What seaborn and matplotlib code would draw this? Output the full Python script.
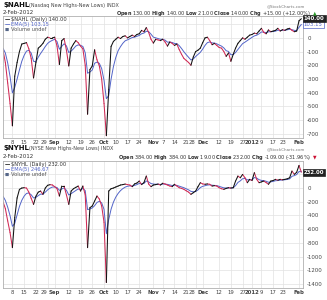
import numpy as np
import pandas as pd
import matplotlib
matplotlib.use("Agg")
import matplotlib.pyplot as plt
import seaborn as sns
from matplotlib.transforms import blended_transform_factory

# ---------------- data ----------------
holidays = ["2011-09-05", "2011-11-24", "2011-12-26", "2012-01-02", "2012-01-16"]
dates = pd.bdate_range("2011-08-02", "2012-02-02", freq="C", holidays=holidays)

nahl = [-90, -180, -330, -480, -643, -280, -180, -100, -45, -40,
        -35, -80, -150, -293, -180, -75, -60, -40, -10, 5,
        0, 0, 5, -60, -195, -20, -5, -90, -205, -75,
        -45, -20, -35, -60, -80, -200, -558, -232, -205, -87,
        -160, -205, -300, -480, -715, -377, -63, -26, -10, 5,
        -5, 10, 15, 0, 10, 20, 10, 25, 30, 55,
        45, 75, 40, -10, -38, -10, -15, -20, -10, -30,
        -60, -30, -40, -55, -45, -85, -120, -150, -165, -180,
        -200, -140, -100, -90, -75, -35, 0, 5, -20, -50,
        -40, -55, -70, -75, -100, -135, -110, -171, -120, -75,
        -40, -20, 0, -10, 5, 20, 25, 35, 30, 50,
        70, 40, 30, 58, 45, 50, 55, 70, 50, 60,
        55, 65, 70, 55, 45, 50, 125, 140]

nyhl = [-200, -300, -480, -650, -870, -430, -145, -20, 0, 5,
        0, -60, -150, -238, -120, -60, -44, -92, 0, 40,
        49, 45, 20, -10, -117, 29, 29, -100, -238, -44,
        -10, 10, 29, -44, 29, -100, -870, -287, -262, -190,
        -117, -160, -262, -500, -1380, -44, -10, 0, 15, 29,
        44, 50, 58, 50, 44, 20, 60, 73, 102, 50,
        80, 175, 58, 20, 44, 50, 58, 44, 70, 58,
        44, 29, 20, 55, 30, 5, -5, -19, -40, -60,
        -92, -68, -44, 20, 78, 60, 55, 60, 55, 29,
        35, 29, 5, -10, -19, -5, 5, 0, 5, 102,
        175, 150, 199, 150, 78, 127, 110, 224, 127, 78,
        90, 102, 80, 55, 102, 110, 127, 115, 127, 120,
        127, 135, 150, 248, 200, 230, 330, 232]

nahl_ema_seed = -68
nyhl_ema_seed = -80

tick_dates = ["2011-08-08", "2011-08-15", "2011-08-22", "2011-08-29", "2011-09-01",
              "2011-09-12", "2011-09-19", "2011-09-26", "2011-10-03", "2011-10-10",
              "2011-10-17", "2011-10-24", "2011-11-01", "2011-11-07", "2011-11-14",
              "2011-11-21", "2011-11-28", "2011-12-01", "2011-12-12", "2011-12-19",
              "2011-12-27", "2012-01-03", "2012-01-09", "2012-01-17", "2012-01-23",
              "2012-02-01"]
tick_labels = ["8", "15", "22", "29", "Sep", "12", "19", "26", "Oct", "10", "17", "24",
               "Nov", "7", "14", "21", "28", "Dec", "12", "19", "27", "2012", "9", "17",
               "23", "Feb"]
bold_labels = {"Sep", "Oct", "Nov", "Dec", "2012", "Feb"}

top_yticks = [100, 0, -100, -200, -300, -400, -500, -600, -700]
bot_yticks = [200, 0, -200, -400, -600, -800, -1000, -1200, -1400]

panels = [
    dict(sym="$NAHL", name="(Nasdaq New Highs-New Lows) INDX",
         ohlc=r"$\bf{Open}$ 130.00 $\bf{High}$ 140.00 $\bf{Low}$ 21.00 $\bf{Close}$ 140.00 $\bf{Chg}$ +15.00 (+12.00%)",
         arrow="▲", arrow_color="#2a9a2a",
         leg1="$NAHL (Daily) 140.00", leg2="EMA(5) 103.15",
         last="140.00", last_ema="103.15",
         vals=nahl, seed=nahl_ema_seed, yticks=top_yticks, ylim=(-732, 160)),
    dict(sym="$NYHL", name="(NYSE New Highs-New Lows) INDX",
         ohlc=r"$\bf{Open}$ 384.00 $\bf{High}$ 384.00 $\bf{Low}$ 19.00 $\bf{Close}$ 232.00 $\bf{Chg}$ -109.00 (-31.96%)",
         arrow="▼", arrow_color="#cc1133",
         leg1="$NYHL (Daily) 232.00", leg2="EMA(5) 246.67",
         last="232.00", last_ema=None,
         vals=nyhl, seed=nyhl_ema_seed, yticks=bot_yticks, ylim=(-1460, 395)),
]

# ---------------- style ----------------
sns.set_style("white")
plt.rcParams["font.family"] = ["DejaVu Sans"]
plt.rcParams["mathtext.fontset"] = "dejavusans"

W, H = 327, 300
fig = plt.figure(figsize=(W / 100, H / 100), dpi=100)
fig.patch.set_facecolor("white")

def fx(x):
    return x / W

def fy(y):
    return 1 - y / H

UP, DOWN, BLUE = "#111111", "#d02a55", "#5264c8"
positions = np.arange(len(dates))
tick_pos = [dates.get_loc(pd.Timestamp(d)) for d in tick_dates]
right_aligned = {3, 16}   # "29" before "Sep", "28" before "Dec"

def ema(vals, seed, span=5):
    a = 2.0 / (span + 1)
    e = seed
    out = []
    for v in vals:
        e = a * v + (1 - a) * e
        out.append(e)
    return out

rects = [(16, 138), (161, 288)]
header_y = [(5, 13), (148, 157)]

for p, (ytop, ybot), (yt1, yt2) in zip(panels, rects, header_y):
    ax = fig.add_axes([fx(3), fy(ybot), 300 / W, (ybot - ytop) / H])
    ax.set_facecolor("white")
    vals = p["vals"]
    rows = []
    for i in range(len(vals) - 1):
        d = "up" if vals[i + 1] >= vals[i] else "down"
        rows.append((i, positions[i], vals[i], d))
        rows.append((i, positions[i + 1], vals[i + 1], d))
    df = pd.DataFrame(rows, columns=["seg", "x", "y", "dir"])
    e = ema(vals, p["seed"])
    edf = pd.DataFrame({"x": positions, "ema": e})
    sns.lineplot(data=edf, x="x", y="ema", ax=ax, color=BLUE, lw=0.7)
    sns.lineplot(data=df, x="x", y="y", units="seg", estimator=None, hue="dir",
                 palette={"up": UP, "down": DOWN}, ax=ax, lw=0.75, legend=False,
                 sort=False, solid_capstyle="round")
    ax.set_xlim(0.0, 127.7)
    ax.set_ylim(*p["ylim"])
    ax.set_xticks(tick_pos)
    ax.set_xticklabels(tick_labels)
    for k, lab in enumerate(ax.get_xticklabels()):
        if lab.get_text() in bold_labels:
            lab.set_fontweight("bold")
        if k in right_aligned:
            lab.set_horizontalalignment("right")
    ax.set_yticks(p["yticks"])
    ax.set_yticklabels([""] + [str(v) for v in p["yticks"][1:]])
    ax.yaxis.tick_right()
    ax.tick_params(axis="both", length=0, labelsize=3.9, labelcolor="#444444", pad=1.5)
    ax.tick_params(axis="y", pad=3)
    ax.grid(True, color="#e2e2e2", lw=0.5)
    ax.set_axisbelow(True)
    for s in ax.spines.values():
        s.set_color("#b0b0b0")
        s.set_linewidth(0.6)
    ax.set_xlabel("")
    ax.set_ylabel("")

    tr = blended_transform_factory(ax.transAxes, ax.transData)
    if p["last_ema"]:
        ax.text(1.003, e[-1], p["last_ema"], transform=tr, fontsize=3.9, color=BLUE,
                ha="left", va="center", clip_on=False,
                bbox=dict(boxstyle="square,pad=0.2", fc="white", ec=BLUE, lw=0.5))
    ax.text(1.003, vals[-1], p["last"], transform=tr, fontsize=3.9, color="white",
            fontweight="bold", ha="left", va="center", clip_on=False,
            bbox=dict(boxstyle="square,pad=0.2", fc="#222222", ec="#222222", lw=0.5))

    # legend block
    lx = fx(5)
    fig.text(lx, fy(ytop + 3.5), "—", fontsize=3.8, color=UP, va="center", fontweight="bold")
    fig.text(fx(11), fy(ytop + 3.5), p["leg1"].replace("$", r"\$"), fontsize=3.7,
             color="#333333", va="center")
    fig.text(lx, fy(ytop + 8.5), "—", fontsize=3.8, color=BLUE, va="center", fontweight="bold")
    fig.text(fx(11), fy(ytop + 8.5), p["leg2"], fontsize=3.7, color=BLUE, va="center")
    fig.text(lx, fy(ytop + 13.5), "■", fontsize=3.2, color="#556688", va="center")
    fig.text(fx(11), fy(ytop + 13.5), "Volume undef", fontsize=3.7, color="#555555", va="center")

    # header
    fig.text(fx(3), fy(yt1), p["sym"].replace("$", r"\$"), fontsize=5.0,
             fontweight="bold", color="#111111", va="center")
    fig.text(fx(29), fy(yt1), p["name"], fontsize=3.5, color="#444444", va="center")
    fig.text(fx(305), fy(yt1 + 1), "@StockCharts.com", fontsize=2.9, color="#777777",
             va="center", ha="right")
    fig.text(fx(3), fy(yt2), "2-Feb-2012", fontsize=4.0, color="#333333", va="center")
    fig.text(fx(311), fy(yt2), p["ohlc"], fontsize=3.6, color="#333333", va="center",
             ha="right")
    fig.text(fx(316), fy(yt2), p["arrow"], fontsize=3.3, color=p["arrow_color"],
             va="center", ha="right")

fig.savefig("out.png", dpi=100, facecolor="white")
